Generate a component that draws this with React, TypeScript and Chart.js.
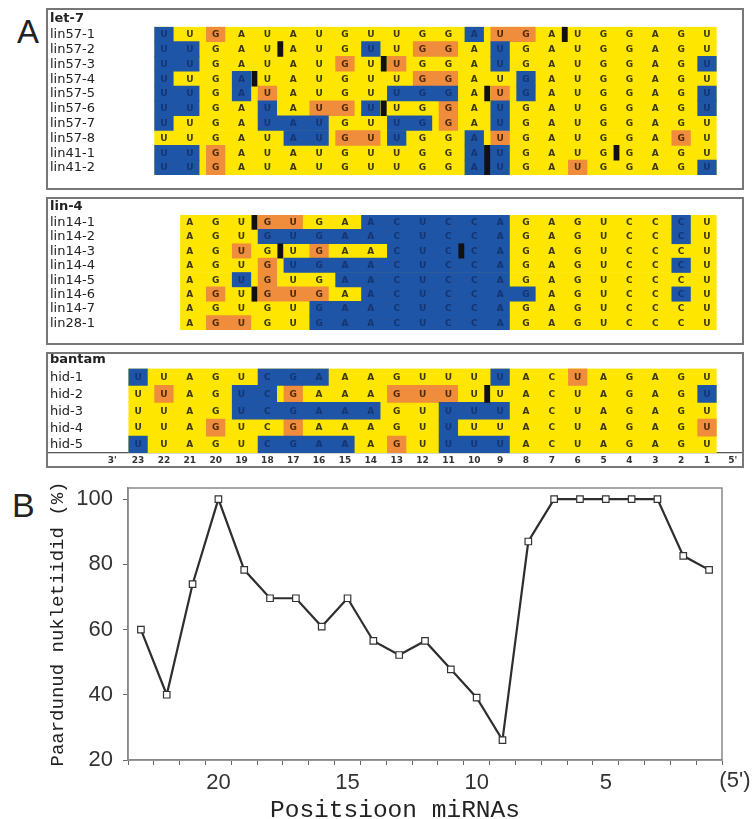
import React, { useEffect, useRef } from 'react';
import { Chart, registerables } from 'chart.js';

Chart.register(...registerables);

// ---------------- Panel A data ----------------
// Pairing codes: Y = Watson-Crick pair, O = G:U wobble, B = unpaired
const let7Rows = ['lin57-1', 'lin57-2', 'lin57-3', 'lin57-4', 'lin57-5', 'lin57-6', 'lin57-7', 'lin57-8', 'lin41-1', 'lin41-2'];
const let7Seq = ['U', 'U', 'G', 'A', 'U', 'A', 'U', 'G', 'U', 'U', 'G', 'G', 'A', 'U', 'G', 'A', 'U', 'G', 'G', 'A', 'G', 'U']; // positions 22 -> 1
const let7Pairing = [
  'BYOYYYYYYYYYBOOYYYYYYY',
  'BBYYYYYYBYOOYBYYYYYYYY',
  'BBYYYYYOYOYYYBYYYYYYYB',
  'BYYBYYYYYYOOYYBYYYYYYY',
  'BBYBOYYYYBBBYOBYYYYYYB',
  'BBYYBYOOBYYOYBYYYYYYYB',
  'BYYYBBBYYBBOYBYYYYYYYY',
  'YYYYYBBOOBYYBOYYYYYYOY',
  'BBOYYYYYYYYYBBYYYYYYYY',
  'BBOYYYYYYYYYBBYYOYYYYB',
];
const let7Bulges: [string, number][] = [
  ['lin57-1', 6.5], ['lin57-2', 17.5], ['lin57-3', 13.5], ['lin57-4', 18.5], ['lin57-5', 9.5],
  ['lin57-6', 13.5], ['lin41-1', 9.5], ['lin41-1', 4.5], ['lin41-2', 9.5],
];

const lin4Rows = ['lin14-1', 'lin14-2', 'lin14-3', 'lin14-4', 'lin14-5', 'lin14-6', 'lin14-7', 'lin28-1'];
const lin4Seq = ['A', 'G', 'U', 'G', 'U', 'G', 'A', 'A', 'C', 'U', 'C', 'C', 'A', 'G', 'A', 'G', 'U', 'C', 'C', 'C', 'U']; // positions 21 -> 1
const lin4Pairing = [
  'YYYOOYYBBBBBBYYYYYYBY',
  'YYYBBBBBBBBBBYYYYYYBY',
  'YYOYYOYYBBBBBYYYYYYYY',
  'YYYOBBBBBBBBBYYYYYYBY',
  'YYBOYYBBBBBBBYYYYYYYY',
  'YOYOOOYBBBBBBBYYYYYBY',
  'YYYYYBBBBBBBBYYYYYYYY',
  'YOOYYBBBBBBBBYYYYYYYY',
];
const lin4Bulges: [string, number][] = [['lin14-1', 18.5], ['lin14-3', 17.5], ['lin14-3', 10.5], ['lin14-6', 18.5]];

const bantamRows = ['hid-1', 'hid-2', 'hid-3', 'hid-4', 'hid-5'];
const bantamSeq = ['U', 'U', 'A', 'G', 'U', 'C', 'G', 'A', 'A', 'A', 'G', 'U', 'U', 'U', 'U', 'A', 'C', 'U', 'A', 'G', 'A', 'G', 'U']; // positions 23 -> 1
const bantamPairing = [
  'BYYYYBBBYYYYYYBYYOYYYYY',
  'YOYYBBOYYYOOOYYYYYYYYYB',
  'YYYYBBBBBBYYBBBYYYYYYYY',
  'YYYOYYOYYYYYBYYYYYYYYYO',
  'BYYYYBBBBYOYBBBYYYYYYYY',
];
const bantamBulges: [string, number][] = [['hid-2', 9.5]];

const axisTickValues = [24, 23, 22, 21, 20, 19, 18, 17, 16, 15, 14, 13, 12, 11, 10, 9, 8, 7, 6, 5, 4, 3, 2, 1, 0];
const axisTickLabels = ["3'", '23', '22', '21', '20', '19', '18', '17', '16', '15', '14', '13', '12', '11', '10', '9', '8', '7', '6', '5', '4', '3', '2', '1', "5'"];

// ---------------- Panel B data ----------------
const positions = [23, 22, 21, 20, 19, 18, 17, 16, 15, 14, 13, 12, 11, 10, 9, 8, 7, 6, 5, 4, 3, 2, 1];
const pairedPct = [60.0, 40.0, 73.9, 100, 78.3, 69.6, 69.6, 60.9, 69.6, 56.5, 52.2, 56.5, 47.8, 39.1, 26.1, 87.0, 100, 100, 100, 100, 100, 82.6, 78.3];
const yTickValues = [20, 40, 60, 80, 100];
const xTickLabelValues = [20, 15, 10, 5];
const xMinorTickValues = [0.5, 1.5, 2.5, 3.5, 4.5, 5.5, 6.5, 7.5, 8.5, 9.5, 10.5, 11.5, 12.5, 13.5, 14.5, 15.5, 16.5, 17.5, 18.5, 19.5, 20.5, 21.5, 22.5, 23.5];

// ---------------- styles ----------------
const YELLOW = '#FFE600';
const BLUE = '#1E55A6';
const ORANGE = '#EF8D3C';
const BLACK = '#111111';
const PITCH = 25.86;
const COL1_PX = 707;
const HW = 0.36;

type Box = { left: number; top: number; width: number; height: number };
type SectionSpec = {
  name: string;
  rows: string[];
  seq: string[];
  pairing: string[];
  bulges: [string, number][];
  startPos: number;
  box: Box;
  padTop: number;
  axis: boolean;
};

const sections: SectionSpec[] = [
  { name: 'let-7', rows: let7Rows, seq: let7Seq, pairing: let7Pairing, bulges: let7Bulges, startPos: 22, box: { left: 46, top: 8, width: 698, height: 182 }, padTop: 18.8, axis: false },
  { name: 'lin-4', rows: lin4Rows, seq: lin4Seq, pairing: lin4Pairing, bulges: lin4Bulges, startPos: 21, box: { left: 46, top: 197, width: 698, height: 148 }, padTop: 18, axis: false },
  { name: 'bantam', rows: bantamRows, seq: bantamSeq, pairing: bantamPairing, bulges: bantamBulges, startPos: 23, box: { left: 46, top: 352, width: 698, height: 116 }, padTop: 16.5, axis: true },
];

function buildSectionConfig(s: SectionSpec): any {
  const bg = s.rows.map((r) => ({ x: [1 - HW, s.startPos + HW], y: r }));
  const blue: any[] = [];
  const orange: any[] = [];
  s.rows.forEach((r, ri) => {
    const p = s.pairing[ri];
    let i = 0;
    while (i < p.length) {
      let j = i;
      while (j + 1 < p.length && p[j + 1] === p[i]) j++;
      const hi = s.startPos - i;
      const lo = s.startPos - j;
      if (p[i] === 'B') blue.push({ x: [lo - HW, hi + HW], y: r });
      if (p[i] === 'O') orange.push({ x: [lo - HW, hi + HW], y: r });
      i = j + 1;
    }
  });
  const bul = s.bulges.map(([r, b]) => ({ x: [b - 0.1, b + 0.1], y: r }));
  const common = { grouped: false, barPercentage: 1, categoryPercentage: 1, borderWidth: 0 };

  const xMax = 1 + (COL1_PX - s.box.left) / PITCH;
  const xMin = 1 + (COL1_PX - (s.box.left + s.box.width)) / PITCH;

  const textPlugin = {
    id: 'sectionText',
    afterDatasetsDraw(chart: any) {
      const ctx = chart.ctx;
      const xs = chart.scales.x;
      const ys = chart.scales.y;
      ctx.save();
      ctx.textAlign = 'center';
      ctx.textBaseline = 'middle';
      ctx.font = 'bold 9px "DejaVu Sans", sans-serif';
      s.rows.forEach((r, ri) => {
        const y = ys.getPixelForValue(ri);
        s.seq.forEach((ch, i) => {
          const c = s.pairing[ri][i];
          ctx.fillStyle = c === 'B' ? '#143574' : c === 'O' ? '#4d2a0a' : '#3b370a';
          ctx.fillText(ch, xs.getPixelForValue(s.startPos - i), y + 0.5);
        });
      });
      ctx.textAlign = 'left';
      ctx.fillStyle = '#222';
      ctx.font = '13px "DejaVu Sans", sans-serif';
      s.rows.forEach((r, ri) => ctx.fillText(r, 4, ys.getPixelForValue(ri) + 0.5));
      ctx.font = 'bold 13px "DejaVu Sans", sans-serif';
      ctx.fillText(s.name, 4, chart.chartArea.top - 8.5);
      ctx.restore();
    },
  };

  return {
    type: 'bar',
    data: {
      labels: s.rows,
      datasets: [
        { label: 'paired', data: bg, backgroundColor: YELLOW, order: 3, ...common },
        { label: 'unpaired', data: blue, backgroundColor: BLUE, order: 2, ...common },
        { label: 'G:U', data: orange, backgroundColor: ORANGE, order: 2, ...common },
        { label: 'bulge', data: bul, backgroundColor: BLACK, order: 1, ...common },
      ],
    },
    options: {
      indexAxis: 'y',
      animation: false,
      responsive: false,
      events: [],
      layout: { padding: { top: s.padTop, left: 0, right: 0, bottom: 0 }, autoPadding: false },
      plugins: { legend: { display: false }, tooltip: { enabled: false } },
      scales: {
        x: {
          type: 'linear',
          min: xMin,
          max: xMax,
          reverse: true,
          display: s.axis,
          grid: { display: false, drawTicks: false },
          border: { display: true, color: '#555', width: 1.2 },
          afterBuildTicks: (sc: any) => {
            sc.ticks = axisTickValues.slice().sort((a, b) => a - b).map((v) => ({ value: v }));
          },
          afterFit: (sc: any) => {
            sc.height = 15;
            sc.paddingLeft = 0;
            sc.paddingRight = 0;
          },
          ticks: {
            autoSkip: false,
            maxRotation: 0,
            minRotation: 0,
            padding: 2,
            color: '#333',
            font: { family: '"DejaVu Sans", sans-serif', size: 9, weight: 'bold' },
            callback: (v: number) => {
              const k = axisTickValues.indexOf(v);
              return k >= 0 ? axisTickLabels[k] : '';
            },
          },
        },
        y: { type: 'category', display: false, offset: true },
      },
    },
    plugins: [textPlugin],
  };
}

function SectionChart({ spec }: { spec: SectionSpec }) {
  const ref = useRef<HTMLCanvasElement>(null);
  useEffect(() => {
    const chart = new Chart(ref.current as HTMLCanvasElement, buildSectionConfig(spec));
    return () => chart.destroy();
  }, [spec]);
  const b = spec.box;
  return (
    <>
      <canvas ref={ref} width={b.width} height={b.height} style={{ position: 'absolute', left: b.left, top: b.top, width: b.width, height: b.height }} />
      <div style={{ position: 'absolute', left: b.left, top: b.top, width: b.width, height: b.height, border: '2px solid #777', boxSizing: 'border-box', pointerEvents: 'none' }} />
    </>
  );
}

function LineChart() {
  const ref = useRef<HTMLCanvasElement>(null);
  useEffect(() => {
    const tickFont = { family: '"Liberation Sans", Arial, sans-serif', size: 22 };
    const panelB = {
      id: 'panelB',
      afterDraw(chart: any) {
        const { ctx, chartArea: a } = chart;
        const x = chart.scales.x;
        ctx.save();
        ctx.strokeStyle = '#8a8a8a';
        ctx.lineWidth = 1.5;
        ctx.strokeRect(a.left, a.top, a.right - a.left, a.bottom - a.top);
        ctx.fillStyle = '#333';
        ctx.font = '22px "Liberation Sans", Arial, sans-serif';
        ctx.textAlign = 'center';
        ctx.textBaseline = 'top';
        ctx.fillText("(5')", x.getPixelForValue(0), a.bottom + 10);
        ctx.font = '24.5px "Liberation Mono", "Courier New", monospace';
        ctx.textAlign = 'left';
        ctx.textBaseline = 'alphabetic';
        ctx.fillStyle = '#222';
        ctx.fillText('Positsioon miRNAs', 270, 342);
        ctx.restore();
      },
    };
    const chart = new Chart(ref.current as HTMLCanvasElement, {
      type: 'line',
      data: {
        datasets: [
          {
            label: 'Paardunud',
            data: positions.map((p, i) => ({ x: p, y: pairedPct[i] })),
            borderColor: '#2e2e2e',
            borderWidth: 2.2,
            pointStyle: 'rect',
            pointRadius: 4.6,
            pointBackgroundColor: '#fff',
            pointBorderColor: '#333',
            pointBorderWidth: 1.2,
            tension: 0,
          },
        ],
      },
      options: {
        animation: false,
        responsive: false,
        events: [],
        layout: { padding: { top: 13, right: 30, left: 0, bottom: 0 }, autoPadding: false },
        plugins: { legend: { display: false }, tooltip: { enabled: false } },
        scales: {
          x: {
            type: 'linear',
            min: 0.5,
            max: 23.5,
            reverse: true,
            afterBuildTicks: (sc: any) => {
              sc.ticks = [...xMinorTickValues, ...xTickLabelValues].sort((a, b) => a - b).map((v) => ({ value: v }));
            },
            afterFit: (sc: any) => {
              sc.height = 59;
              sc.paddingLeft = 0;
              sc.paddingRight = 0;
            },
            grid: {
              display: true,
              drawOnChartArea: false,
              drawTicks: true,
              tickLength: 5,
              tickWidth: 1,
              tickColor: (c: any) => (c.tick && Number.isInteger(c.tick.value) ? 'rgba(0,0,0,0)' : '#666'),
            },
            border: { display: true, color: '#8a8a8a', width: 1.5 },
            ticks: {
              autoSkip: false,
              maxRotation: 0,
              minRotation: 0,
              padding: 5,
              color: '#333',
              font: tickFont,
              callback: (v: any) => (xTickLabelValues.includes(v) ? String(v) : ''),
            },
          },
          y: {
            type: 'linear',
            min: 20,
            max: 103.4,
            afterBuildTicks: (sc: any) => {
              sc.ticks = yTickValues.map((v) => ({ value: v }));
            },
            afterFit: (sc: any) => {
              sc.width = 128;
              sc.paddingTop = 0;
              sc.paddingBottom = 0;
            },
            grid: { display: true, drawOnChartArea: false, tickLength: 5, tickColor: '#666' },
            border: { display: true, color: '#8a8a8a', width: 1.5 },
            ticks: { padding: 10, color: '#333', font: tickFont },
            title: {
              display: true,
              text: 'Paardunud nukletiidid (%)',
              color: '#222',
              font: { family: '"Liberation Mono", "Courier New", monospace', size: 19 },
              padding: { top: 47, bottom: 0 },
            },
          },
        },
      } as any,
      plugins: [panelB],
    });
    return () => chart.destroy();
  }, []);
  return <canvas ref={ref} width={752} height={344} style={{ position: 'absolute', left: 0, top: 475, width: 752, height: 344 }} />;
}

export default function App() {
  return (
    <div style={{ position: 'absolute', left: 0, top: 0, width: 752, height: 819, background: '#fff', overflow: 'hidden' }}>
      <div style={{ position: 'absolute', left: 17, top: 15, fontFamily: '"Liberation Sans", Arial, sans-serif', fontSize: 33, lineHeight: 1, color: '#222' }}>A</div>
      {sections.map((s) => (
        <SectionChart key={s.name} spec={s} />
      ))}
      <div style={{ position: 'absolute', left: 12, top: 487.6, fontFamily: '"Liberation Sans", Arial, sans-serif', fontSize: 34, lineHeight: 1, color: '#222' }}>B</div>
      <LineChart />
    </div>
  );
}
